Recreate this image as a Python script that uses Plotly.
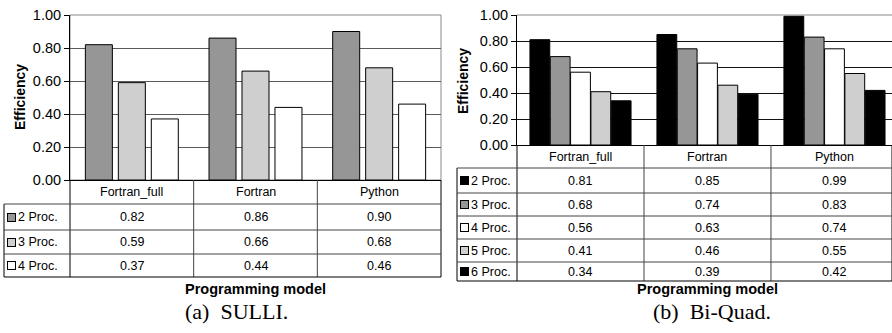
import plotly.graph_objects as go

# ---------------- data ----------------
categories = ["Fortran_full", "Fortran", "Python"]

sulli_series = ["2 Proc.", "3 Proc.", "4 Proc."]
sulli_2 = [0.82, 0.86, 0.90]
sulli_3 = [0.59, 0.66, 0.68]
sulli_4 = [0.37, 0.44, 0.46]

biquad_series = ["2 Proc.", "3 Proc.", "4 Proc.", "5 Proc.", "6 Proc."]
biquad_2 = [0.81, 0.85, 0.99]
biquad_3 = [0.68, 0.74, 0.83]
biquad_4 = [0.56, 0.63, 0.74]
biquad_5 = [0.41, 0.46, 0.55]
biquad_6 = [0.34, 0.39, 0.42]

y_ticks = [0.0, 0.2, 0.4, 0.6, 0.8, 1.0]

# ---------------- styling ----------------
W, H = 892, 333
SANS = "Liberation Sans, Arial, sans-serif"
SERIF = "Liberation Serif, Times New Roman, serif"
DARK = "#969696"
LIGHT = "#cfcfcf"
LINE = "#444444"

sulli_colors = [DARK, LIGHT, "white"]
biquad_colors = ["black", DARK, "white", LIGHT, "black"]


def px_x(p):
    return p / W


def px_y(p):
    return 1 - p / H


fig = go.Figure()

for name, vals, col in zip(sulli_series, [sulli_2, sulli_3, sulli_4], sulli_colors):
    fig.add_trace(go.Bar(x=categories, y=vals, name=name, width=0.655 / 3,
                         marker=dict(color=col, line=dict(color="black", width=1)),
                         xaxis="x", yaxis="y", showlegend=False))

for name, vals, col in zip(biquad_series, [biquad_2, biquad_3, biquad_4, biquad_5, biquad_6], biquad_colors):
    fig.add_trace(go.Bar(x=categories, y=vals, name=name, width=0.78 / 5,
                         marker=dict(color=col, line=dict(color="black", width=1)),
                         xaxis="x2", yaxis="y2", showlegend=False))

yaxis_common = dict(range=[0, 1], tickvals=y_ticks, tickformat=".2f", ticks="outside", ticklen=5,
                    tickcolor="black", showline=True, linecolor="black", linewidth=1, automargin=False,
                    tickfont=dict(family=SANS, size=14.5, color="black"), zeroline=False)

fig.update_layout(
    width=W, height=H, margin=dict(l=0, r=0, t=0, b=0, pad=0),
    paper_bgcolor="white", plot_bgcolor="white",
    barmode="group",
    xaxis=dict(domain=[px_x(70), px_x(441)], range=[-0.5, 2.5], showticklabels=False, ticks="",
               showline=True, linecolor="black", anchor="y", showgrid=False, automargin=False),
    yaxis=dict(domain=[px_y(180), px_y(15)], anchor="x", gridcolor="#5a5a5a", **yaxis_common),
    xaxis2=dict(domain=[px_x(517), 1.0], range=[-0.5, 2.453], showticklabels=False, ticks="",
                showline=True, linecolor="black", anchor="y2", showgrid=False, automargin=False),
    yaxis2=dict(domain=[px_y(145), px_y(15)], anchor="x2", gridcolor="#111111", **yaxis_common),
)

# plot-area borders (gray top/right)
fig.add_shape(type="rect", xref="x domain", yref="y domain", x0=0, x1=1, y0=0, y1=1,
              line=dict(color="#8a8a8a", width=1), layer="below")
fig.add_shape(type="line", xref="x2 domain", yref="y2 domain", x0=0, x1=1, y0=1, y1=1,
              line=dict(color="#8a8a8a", width=1), layer="below")


def data_table(xa, left_px, right_paper, row_edges, series, colors, rows):
    """Draw a data table under a chart: columns follow the category axis `xa`."""
    top, bottom = row_edges[0], row_edges[-1]
    dom = xa + " domain"
    for xv in (0, 1):
        fig.add_shape(type="line", xref=dom, yref="paper", x0=xv, x1=xv, y0=px_y(top), y1=px_y(bottom),
                      line=dict(color="black", width=1))
    for b in [0.5, 1.5]:
        fig.add_shape(type="line", xref=xa, yref="paper", x0=b, x1=b, y0=px_y(top), y1=px_y(bottom),
                      line=dict(color=LINE, width=1))
    fig.add_shape(type="line", xref="paper", yref="paper", x0=px_x(left_px), x1=px_x(left_px),
                  y0=px_y(row_edges[1]), y1=px_y(bottom), line=dict(color="black", width=1))
    for ye in row_edges[1:]:
        fig.add_shape(type="line", xref="paper", yref="paper", x0=px_x(left_px), x1=right_paper,
                      y0=px_y(ye), y1=px_y(ye), line=dict(color="black" if ye == bottom else LINE, width=1))
    hc = (row_edges[0] + row_edges[1]) / 2
    for c in categories:
        fig.add_annotation(text=c, x=c, xref=xa, y=px_y(hc), yref="paper", showarrow=False,
                           xanchor="center", yanchor="middle", font=dict(family=SANS, size=12.5, color="black"))
    for r, (name, col, vals) in enumerate(zip(series, colors, rows)):
        yc = (row_edges[r + 1] + row_edges[r + 2]) / 2
        fig.add_annotation(text="", x=px_x(left_px + 3), y=px_y(yc), xref="paper", yref="paper",
                           showarrow=False, xanchor="left", yanchor="middle", width=7, height=7,
                           bgcolor=col, bordercolor="black", borderwidth=1, borderpad=0)
        fig.add_annotation(text=name, x=px_x(left_px + 12), y=px_y(yc), xref="paper", yref="paper",
                           showarrow=False, xanchor="left", yanchor="middle",
                           font=dict(family=SANS, size=12.5, color="black"))
        for c, v in zip(categories, vals):
            fig.add_annotation(text=f"{v:.2f}", x=c, xref=xa, y=px_y(yc), yref="paper", showarrow=False,
                               xanchor="center", yanchor="middle", font=dict(family=SANS, size=12.5, color="black"))


data_table("x", 4, px_x(441), [180, 204, 230, 254, 277], sulli_series, sulli_colors, [sulli_2, sulli_3, sulli_4])
data_table("x2", 457, 1.0, [145, 168, 193, 216, 239, 262, 281], biquad_series, biquad_colors,
           [biquad_2, biquad_3, biquad_4, biquad_5, biquad_6])

# axis titles and captions
fig.add_annotation(text="<b>Efficiency</b>", textangle=-90, x=px_x(20), y=px_y(97), xref="paper", yref="paper",
                   showarrow=False, xanchor="center", yanchor="middle", font=dict(family=SANS, size=14, color="black"))
fig.add_annotation(text="<b>Efficiency</b>", textangle=-90, x=px_x(463), y=px_y(81), xref="paper", yref="paper",
                   showarrow=False, xanchor="center", yanchor="middle", font=dict(family=SANS, size=14, color="black"))
fig.add_annotation(text="<b>Programming model</b>", x=0.5, y=px_y(289), xref="x domain", yref="paper",
                   showarrow=False, xanchor="center", yanchor="middle", font=dict(family=SANS, size=14.5, color="black"))
fig.add_annotation(text="<b>Programming model</b>", x=0.508, y=px_y(289), xref="x2 domain", yref="paper",
                   showarrow=False, xanchor="center", yanchor="middle", font=dict(family=SANS, size=14.5, color="black"))
fig.add_annotation(text="(a)  SULLI.", x=px_x(236), y=px_y(311), xref="paper", yref="paper",
                   showarrow=False, xanchor="center", yanchor="middle", font=dict(family=SERIF, size=22, color="black"))
fig.add_annotation(text="(b)  Bi-Quad.", x=px_x(712), y=px_y(311), xref="paper", yref="paper",
                   showarrow=False, xanchor="center", yanchor="middle", font=dict(family=SERIF, size=22, color="black"))

fig.write_html("out.html", config={"displayModeBar": False},
               post_script="document.body.style.margin='0px';document.body.style.overflow='hidden';")
